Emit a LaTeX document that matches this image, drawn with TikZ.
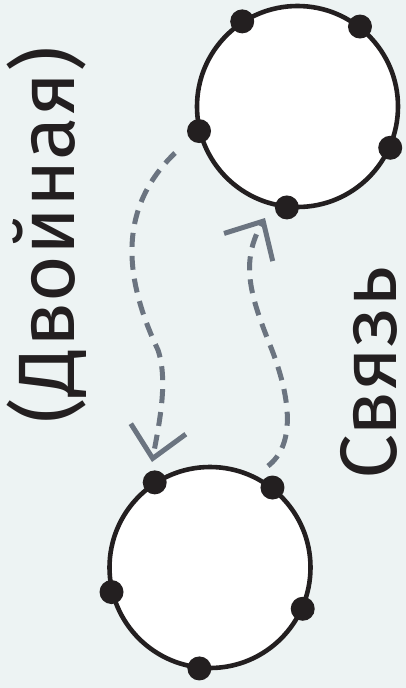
\documentclass[tikz,border=0pt]{standalone}
\usepackage{fontspec}
\setmainfont{Fira Sans}
\usetikzlibrary{arrows.meta}
\definecolor{bg}{HTML}{EDF3F3}
\definecolor{ink}{HTML}{231F20}
\definecolor{linkgray}{HTML}{6B7480}
\begin{document}
\begin{tikzpicture}[x=1pt,y=-1pt,
  ring/.style={circle, draw=ink, line width=4.6pt, fill=white, minimum size=201pt, inner sep=0pt, outer sep=1pt},
  pin/.style={circle, fill=ink, minimum size=24pt, inner sep=0pt},
  link/.style={draw=linkgray, line width=5pt, dash pattern=on 14pt off 9pt,
    -{Straight Barb[length=30pt,width=56pt,line width=5pt]}},
  vtext/.style={font=\fontsize{80}{90}\selectfont, text=ink, rotate=90, anchor=base, inner sep=0pt}]
  \useasboundingbox[fill=bg] (0,0) rectangle (406,688);

  % the two rings with their five contact points each
  \node[ring] (upper) at (297.5,106.5) {};
  \node[ring] (lower) at (210,567.5) {};
  \foreach \r in {upper,lower}{
    \foreach \a/\k in {123/1,52/2,194.5/3,336/4,264.5/5}{
      \node[pin] (\r-\k) at (\r.\a) {};
    }
  }

  % ends of the two dashed links
  \coordinate (downstart) at (175,153);
  \coordinate (downend) at (152,462);
  \coordinate (upstart) at (268,466);
  \coordinate (upend) at (265,218);

  \draw[link] (downstart) .. controls (116,210) and (125,280) .. (158,350)
                          .. controls (168,380) and (160,420) .. (downend);
  \draw[link] (upstart) .. controls (295,445) and (292,400) .. (270,345)
                        .. controls (250,295) and (240,262) .. (upend);

  % rotated captions
  \node[vtext] (caption-left) at (74,235) {(Двойная)};
  \node[vtext] (caption-right) at (396,373) {Связь};
\end{tikzpicture}
\end{document}
